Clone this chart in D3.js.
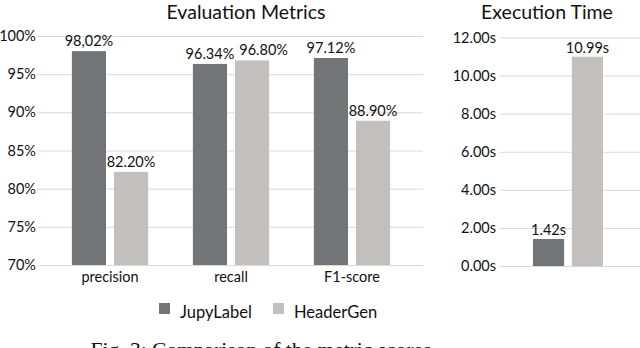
<!DOCTYPE html>
<html><head><meta charset="utf-8">
<script src="https://cdn.jsdelivr.net/npm/d3@7"></script>
<style>
body{margin:0;background:#fff;}
svg text{font-family:Lato,"Open Sans",sans-serif;fill:#111;}
</style></head>
<body><svg id="c" width="640" height="348"></svg>
<script>
const categories = ["precision","recall","F1-score"];
const seriesNames = ["JupyLabel","HeaderGen"];
const jupyLabel = [98.02, 96.34, 97.12];
const headerGen = [82.20, 96.80, 88.90];
const valueLabelsJ = ["98,02%","96.34%","97.12%"];
const valueLabelsH = ["82.20%","96.80%","88.90%"];
const pctTicks = [70,75,80,85,90,95,100];
const timeValues = [1.42, 10.99];
const timeTicks = [0,2,4,6,8,10,12];
const colors = ["#727578","#c3bfbc"];

const svg = d3.select("#c");
const FS = 14.5;

// Left chart
const y = d3.scaleLinear().domain([70,100]).range([265,36]);
const x0 = d3.scaleBand().domain(categories).range([49.5,412.5]).paddingInner(0.37).paddingOuter(0.185);
const x1 = d3.scaleBand().domain(seriesNames).range([0, x0.bandwidth()]).paddingInner(0.19);

const gL = svg.append("g");
gL.selectAll("line.grid").data(pctTicks).join("line")
  .attr("x1",37).attr("x2",423).attr("y1",d=>y(d)+0.5).attr("y2",d=>y(d)+0.5)
  .attr("stroke","#d9d9d9").attr("stroke-width",1);
const yAx = gL.append("g").attr("transform","translate(37,0)")
  .call(d3.axisLeft(y).tickValues(pctTicks).tickSize(0).tickPadding(1).tickFormat(d=>d+"%"));
yAx.select(".domain").remove();
yAx.selectAll("text").attr("font-size",FS).style("font-family","Lato,sans-serif").attr("fill","#111");

const data = categories.map((c,i)=>({c, vals:[{s:"JupyLabel",v:jupyLabel[i],l:valueLabelsJ[i]},{s:"HeaderGen",v:headerGen[i],l:valueLabelsH[i]}]}));
const grp = gL.selectAll("g.cat").data(data).join("g").attr("transform",d=>`translate(${x0(d.c)},0)`);
grp.selectAll("rect").data(d=>d.vals).join("rect")
  .attr("x",d=>x1(d.s)).attr("width",x1.bandwidth())
  .attr("y",d=>y(d.v)).attr("height",d=>y(70)-y(d.v))
  .attr("fill",(d,i)=>colors[i]);
grp.each(function(){
  const labels = d3.select(this).selectAll("text.val").data(d=>d.vals).join("text").attr("class","val")
    .attr("x",d=>x1(d.s)+x1.bandwidth()/2).attr("y",d=>y(d.v)-5)
    .attr("text-anchor","middle").attr("font-size",FS).text(d=>d.l);
  // simple collision avoidance, like the spreadsheet's label placement
  const nodes = labels.nodes();
  if (nodes.length === 2) {
    const a = nodes[0].getBBox(), b = nodes[1].getBBox();
    const vOverlap = !(a.y + a.height < b.y || b.y + b.height < a.y);
    const gap = 5;
    if (vOverlap && a.x + a.width + gap > b.x) {
      const shift = a.x + a.width + gap - b.x;
      d3.select(nodes[1]).attr("x", +d3.select(nodes[1]).attr("x") + shift);
    }
  }
});

const xAx = gL.append("g").attr("transform","translate(0,265)")
  .call(d3.axisBottom(x0).tickSize(0).tickPadding(7));
xAx.select(".domain").remove();
xAx.selectAll("text").attr("font-size",FS).style("font-family","Lato,sans-serif").attr("fill","#111");

svg.append("text").attr("x",246).attr("y",19).attr("text-anchor","middle").attr("font-size",19.5).text("Evaluation Metrics");

// Right chart
const yR = d3.scaleLinear().domain([0,12]).range([266,37.5]);
const xR = d3.scaleBand().domain(seriesNames).range([533,603]).paddingInner(0.2);
const gR = svg.append("g");
gR.selectAll("line").data(timeTicks).join("line")
  .attr("x1",500).attr("x2",640).attr("y1",d=>yR(d)+0.5).attr("y2",d=>yR(d)+0.5)
  .attr("stroke","#d9d9d9");
const yRAx = gR.append("g").attr("transform","translate(499,0)")
  .call(d3.axisLeft(yR).tickValues(timeTicks).tickSize(0).tickPadding(3).tickFormat(d=>d.toFixed(2)+"s"));
yRAx.select(".domain").remove();
yRAx.selectAll("text").attr("font-size",FS).style("font-family","Lato,sans-serif").attr("fill","#111");
gR.selectAll("rect").data(timeValues).join("rect")
  .attr("x",(d,i)=>xR(seriesNames[i])).attr("width",xR.bandwidth())
  .attr("y",d=>yR(d)).attr("height",d=>yR(0)-yR(d)).attr("fill",(d,i)=>colors[i]);
gR.selectAll("text.val").data(timeValues).join("text")
  .attr("x",(d,i)=>xR(seriesNames[i])+xR.bandwidth()/2).attr("y",d=>yR(d)-4)
  .attr("text-anchor","middle").attr("font-size",FS).text(d=>d.toFixed(2)+"s");
svg.append("text").attr("x",547).attr("y",19).attr("text-anchor","middle").attr("font-size",19.5).text("Execution Time");

// Legend
const leg = svg.append("g");
const legX = [159, 273];
seriesNames.forEach((s,i)=>{
  leg.append("rect").attr("x",legX[i]).attr("y",303).attr("width",11).attr("height",11).attr("fill",colors[i]);
  leg.append("text").attr("x",legX[i]+21).attr("y",318).attr("font-size",16.5).text(s);
});

// Caption (cut off at bottom, as in the reference)
svg.append("text").attr("x",261).attr("y",357).attr("text-anchor","middle")
  .style("font-family","'Liberation Serif',serif").attr("font-size",21.5).text("Fig. 3: Comparison of the metric scores");
</script></body></html>
